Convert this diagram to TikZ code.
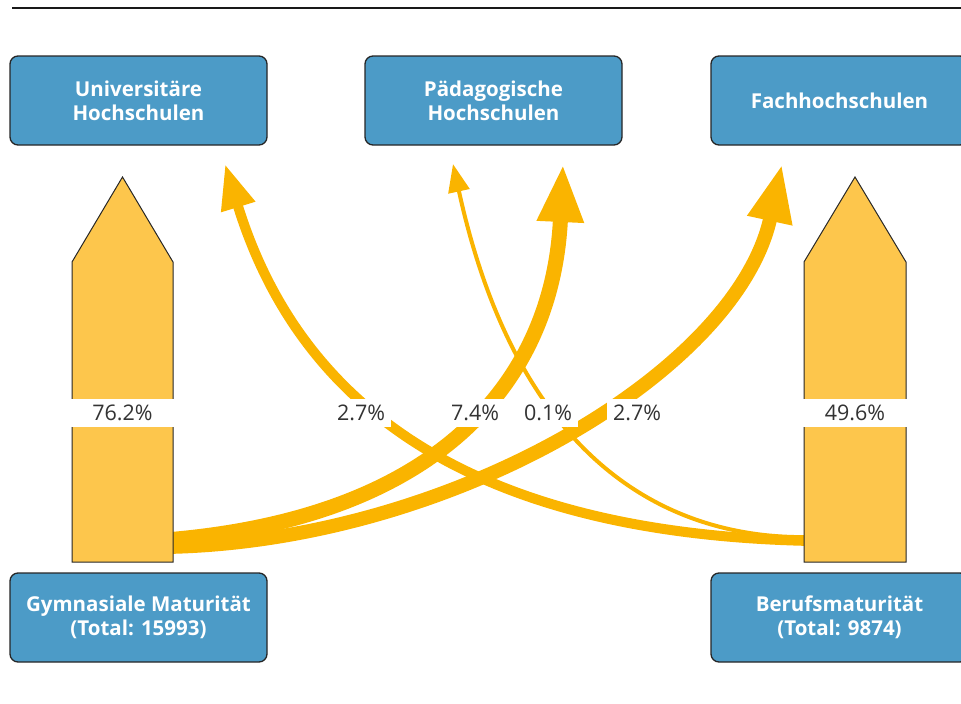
\documentclass[tikz,border=0pt]{standalone}
\usepackage{fontspec}
\setmainfont{Open Sans}
\usepackage{tikz}
\usetikzlibrary{arrows.meta}
\definecolor{boxblue}{RGB}{76,155,199}
\definecolor{flow}{RGB}{250,180,0}
\definecolor{pillar}{RGB}{253,198,76}
\definecolor{txtgray}{RGB}{51,51,51}
\tikzstyle{school} = [draw=black!85, line width=1.3, fill=boxblue, rounded corners=8, minimum width=257, minimum height=89, inner sep=0, text=white, align=center, font=\bfseries\fontsize{20.5}{24}\selectfont]
\tikzstyle{share} = [fill=white, text=txtgray, minimum height=28, inner xsep=6, inner ysep=0, font=\fontsize{21.5}{24}\selectfont]
\tikzstyle{flowline} = [draw=flow, line cap=butt]
\tikzstyle{pillarbox} = [fill=pillar, draw=black!85, line width=1, line join=miter]

\begin{document}
\begin{tikzpicture}[x=1pt, y=-1pt, line join=round, >=Triangle]
      \useasboundingbox (0,0) rectangle (961,704);
      \clip (0,0) rectangle (961,704);
      \draw [line width=2.5, black!90] (12,8) -- (961,8);
      \node[school] (uh) at (138.5,100.5) {Universitäre\\Hochschulen};
      \node[school] (ph) at (493.5,100.5) {Pädagogische\\Hochschulen};
      \node[school] (fh) at (839.5,100.5) {Fachhochschulen};
      \node[school] (gm) at (138.5,617.5) {Gymnasiale Maturität\\(Total: 15993)};
      \node[school] (bm) at (839.5,617.5) {Berufsmaturität\\(Total: 9874)};
      \coordinate (gmPH) at (165,540);
      \coordinate (gmFH) at (165,547);
      \coordinate (bmUH) at (812,541);
      \coordinate (bmPH) at (812,537);
      \coordinate (uhB) at (225,164);
      \coordinate (phB) at (453,164);
      \coordinate (phG) at (563,164);
      \coordinate (fhG) at (782,164);
      \draw [flowline, line width=15, -{Triangle[length=58, width=43]}] (gmPH) .. controls (440,518) and (553,380) .. (phG);
      \draw [flowline, line width=14, -{Triangle[length=58, width=42]}] (gmFH) .. controls (450,542) and (737,372) .. (fhG);
      \draw [flowline, line width=10, -{Triangle[length=45, width=33]}] (bmUH) .. controls (520,535) and (310,440) .. (uhB);
      \draw [flowline, line width=4, -{Triangle[length=28, width=21]}] (bmPH) .. controls (690,540) and (523,484) .. (phB);
      \draw [pillarbox] (72,562) -- (72,262) -- (122.5,177) -- (173,262) -- (173,562) -- cycle;
      \draw [pillarbox] (804,562) -- (804,262) -- (855,177) -- (906,262) -- (906,562) -- cycle;
      \node[share, minimum width=106, inner xsep=0] (gmAll) at (122.5,413) {76.2\%};
      \node[share, minimum width=106, inner xsep=0] (bmAll) at (855,413) {49.6\%};
      \node[share] (uhShare) at (361,413) {2.7\%};
      \node[share] (phGShare) at (475,413) {7.4\%};
      \node[share] (phBShare) at (548,413) {0.1\%};
      \node[share] (fhShare) at (637,413) {2.7\%};
\end{tikzpicture}
\end{document}
